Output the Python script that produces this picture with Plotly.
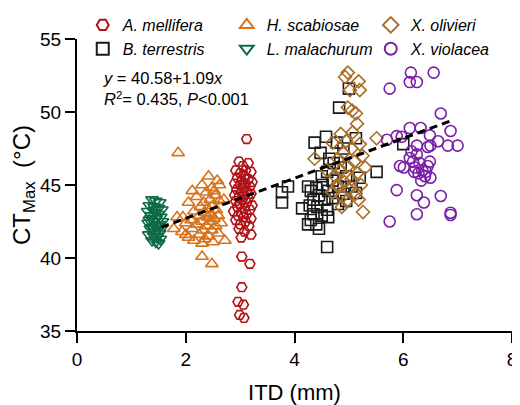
import plotly.graph_objects as go

# ---------------- data ----------------
mellifera_x = [3.12, 2.98, 3.15, 3.05, 2.92, 3.10, 3.20, 3.00, 3.08, 2.95, 3.15, 3.03, 3.22, 2.90, 3.10,
               3.00, 3.18, 3.06, 2.94, 3.12, 3.02, 3.20, 2.90, 3.08, 2.98, 3.15, 3.04, 2.92, 3.12, 3.00,
               3.22, 2.95, 3.08, 3.18, 2.88, 3.02, 3.12, 2.96, 3.06, 3.20, 2.92, 3.10, 3.00, 3.16, 2.98,
               3.08, 3.20, 3.02, 3.03, 3.18, 3.03, 2.96, 3.06, 2.99, 3.07]
mellifera_y = [48.15, 46.6, 46.5, 46.3, 46.0, 46.0, 45.9, 45.8, 45.6, 45.5, 45.4, 45.3, 45.2, 45.1, 45.1,
               45.0, 44.9, 44.8, 44.7, 44.6, 44.5, 44.4, 44.3, 44.3, 44.2, 44.1, 44.0, 43.9, 43.8, 43.7,
               43.6, 43.5, 43.4, 43.3, 43.2, 43.1, 43.0, 42.9, 42.8, 42.7, 42.6, 42.5, 42.3, 42.2, 42.0,
               41.8, 41.6, 41.4, 40.1, 39.6, 38.0, 37.0, 36.8, 36.1, 35.9]

scabiosae_x = [1.86, 2.42, 2.58, 2.30, 2.48, 2.12, 2.38, 2.55, 2.20, 2.45, 2.62, 2.05, 2.33, 2.50, 2.27,
               2.40, 2.56, 2.15, 2.35, 2.46, 2.60, 2.25, 1.95, 2.40, 2.52, 1.84, 2.10, 2.30, 2.44, 2.65,
               2.00, 2.20, 2.38, 2.55, 1.78, 2.12, 2.32, 2.48, 1.93, 2.60, 2.25, 2.42, 2.05, 2.35, 2.72,
               2.15, 2.50, 2.30, 2.00, 2.30, 2.48, 2.70, 2.62, 2.52]
scabiosae_y = [47.2, 45.6, 45.3, 45.0, 44.8, 44.6, 44.5, 44.3, 44.2, 44.0, 43.9, 43.8, 43.8, 43.6, 43.5,
               43.4, 43.3, 43.2, 43.1, 43.0, 42.9, 42.9, 42.8, 42.8, 42.7, 42.8, 42.6, 42.5, 42.5, 42.4,
               42.4, 42.3, 42.2, 42.2, 42.0, 42.0, 41.9, 41.9, 41.8, 41.7, 41.6, 41.5, 41.4, 41.3, 41.2,
               41.2, 41.1, 41.0, 41.6, 40.1, 39.6, 44.0, 45.0, 44.6]

olivieri_x = [4.98, 4.93, 5.18, 5.20, 5.02, 4.98, 5.13, 5.06, 5.15, 5.07, 5.51, 4.85, 4.95, 5.20, 4.70,
              5.05, 4.90, 5.25, 4.37, 4.80, 5.10, 4.98, 5.30, 4.85, 5.15, 4.75, 5.05, 4.92, 5.22, 4.80,
              5.00, 4.70, 5.12, 4.88, 4.96, 4.87, 5.26, 5.18, 4.78, 4.60]
olivieri_y = [52.7, 52.4, 52.1, 51.5, 51.5, 50.3, 49.9, 50.1, 49.2, 48.6, 48.2, 48.5, 48.0, 47.8, 47.9,
              47.5, 47.2, 47.0, 46.8, 46.8, 46.6, 46.3, 46.2, 46.0, 45.8, 45.6, 45.4, 45.2, 45.0, 44.9,
              44.7, 44.5, 44.4, 44.2, 43.9, 43.5, 43.15, 44.0, 45.0, 46.0]

terrestris_x = [5.00, 4.82, 5.13, 4.37, 4.58, 4.78, 4.90, 4.64, 4.48, 4.72, 4.85, 4.60, 5.51, 5.20, 4.95,
                4.70, 4.52, 4.80, 5.05, 5.13, 4.40, 4.62, 4.90, 3.77, 3.88, 3.77, 4.14, 4.30, 4.45, 4.55,
                4.35, 4.70, 4.28, 4.42, 4.60, 4.80, 4.35, 4.50, 4.62, 4.25, 4.40, 4.30, 4.45, 4.60, 6.00,
                4.95, 4.25, 4.50]
terrestris_y = [51.6, 50.3, 48.2, 47.9, 48.3, 47.9, 47.5, 46.8, 47.2, 46.5, 46.2, 45.9, 45.9, 45.5, 45.6,
                45.3, 45.0, 44.9, 44.9, 44.45, 44.8, 44.6, 44.4, 44.5, 44.9, 43.8, 43.4, 44.6, 44.3, 44.0,
                44.0, 44.1, 43.6, 43.5, 43.3, 43.7, 43.0, 42.9, 42.8, 42.3, 42.3, 42.6, 42.0, 40.75, 47.8,
                43.9, 44.9, 45.6]

malachurum_x = [1.38, 1.45, 1.52, 1.33, 1.42, 1.50, 1.56, 1.30, 1.44, 1.49, 1.37, 1.54, 1.46, 1.33, 1.41,
                1.57, 1.31, 1.51, 1.45, 1.39, 1.55, 1.35, 1.48, 1.43, 1.52, 1.32, 1.41, 1.47, 1.53, 1.38,
                1.45, 1.50, 1.36, 1.43, 1.47]
malachurum_y = [44.0, 43.9, 43.8, 43.6, 43.5, 43.4, 43.3, 43.2, 43.1, 43.0, 42.9, 42.8, 42.7, 42.6, 42.5,
                42.5, 42.4, 42.3, 42.2, 42.1, 42.0, 42.0, 41.9, 41.8, 41.7, 41.6, 41.5, 41.4, 41.3, 41.2,
                41.1, 41.0, 42.7, 43.3, 42.2]

violacea_x = [6.14, 6.56, 6.12, 6.25, 5.75, 6.69, 6.87, 6.12, 6.32, 6.49, 5.88, 5.70, 5.97, 6.64, 6.25,
              6.45, 6.50, 6.82, 7.00, 6.12, 6.25, 6.18, 5.94, 6.01, 6.49, 6.22, 6.35, 6.45, 6.28, 6.40,
              6.50, 6.33, 6.20, 6.42, 6.30, 6.15, 5.88, 6.25, 6.38, 6.69, 6.25, 6.87, 6.87, 5.75]
violacea_y = [52.7, 52.7, 52.05, 52.05, 51.6, 49.9, 48.7, 48.9, 48.9, 48.4, 48.35, 48.1, 48.3, 48.0, 47.7,
              47.6, 47.7, 47.7, 47.7, 46.85, 47.1, 46.6, 46.3, 46.2, 46.6, 46.2, 46.0, 46.3, 45.8, 45.6,
              45.5, 45.3, 45.9, 45.9, 46.5, 47.3, 44.65, 44.3, 43.8, 44.25, 43.0, 43.1, 42.95, 42.5]

# drawn trend line
trend_x = [1.55, 6.90]
trend_intercept = 39.98
trend_slope = 1.37
trend_y = [trend_intercept + trend_slope * v for v in trend_x]

x_ticks = [0, 2, 4, 6, 8]
y_ticks = [35, 40, 45, 50, 55]

FONT = "Arial, Liberation Sans, sans-serif"

series = [
    # name, x, y, symbol, colour, legendrank, size
    ("A. mellifera", mellifera_x, mellifera_y, "hexagon2-open", "#B01217", 1, 10),
    ("H. scabiosae", scabiosae_x, scabiosae_y, "triangle-up-open", "#D6731C", 2, 11),
    ("X. olivieri", olivieri_x, olivieri_y, "diamond-open", "#A86E28", 3, 10),
    ("B. terrestris", terrestris_x, terrestris_y, "square-open", "#1A1A1A", 4, 11),
    ("L. malachurum", malachurum_x, malachurum_y, "triangle-down-open", "#0E6B43", 5, 11),
    ("X. violacea", violacea_x, violacea_y, "circle-open", "#7A1FA6", 6, 11),
]

fig = go.Figure()
draw_order = [3, 2, 0, 4, 1, 5]
for i in draw_order:
    name, xs, ys, sym, col, rank, sz = series[i]
    fig.add_trace(go.Scatter(
        x=xs, y=ys, mode="markers", name=f"<i>{name}</i>",
        legendrank=rank,
        marker=dict(symbol=sym, size=sz, color=col, line=dict(width=1.6, color=col)),
    ))

fig.add_trace(go.Scatter(
    x=trend_x, y=trend_y, mode="lines", showlegend=False,
    line=dict(color="black", width=3, dash="8px,5px"),
))

fig.add_annotation(
    xref="paper", yref="paper", x=0.055, y=0.905, xanchor="left", yanchor="top",
    align="left", showarrow=False,
    text="<i>y</i> = 40.58+1.09<i>x</i><br><i>R</i><sup>2</sup>= 0.435, <i>P</i>&lt;0.001",
    font=dict(family=FONT, size=16.5, color="black"),
)

# page body has an 8px margin, so the figure is sized/positioned to compensate
fig.update_layout(
    width=512, height=397,
    margin=dict(l=69, r=8, t=31, b=74, autoexpand=False),
    paper_bgcolor="white", plot_bgcolor="white",
    font=dict(family=FONT, color="black"),
    showlegend=True,
    legend=dict(
        orientation="h", xref="container", yref="container",
        x=0.146, y=1.0, xanchor="left", yanchor="top",
        font=dict(family=FONT, size=16, color="black"),
        entrywidth=99, traceorder="normal",
        bgcolor="rgba(0,0,0,0)", itemsizing="constant",
    ),
    xaxis=dict(
        range=[0, 8], tickvals=x_ticks, showgrid=False, zeroline=False,
        showline=True, linecolor="black", linewidth=2, automargin=False,
        ticks="outside", ticklen=10, tickwidth=2, tickcolor="black",
        tickfont=dict(size=19, family=FONT),
        title=dict(text="ITD (mm)", font=dict(size=22, family=FONT), standoff=16),
    ),
    yaxis=dict(
        range=[35, 55], tickvals=y_ticks, showgrid=False, zeroline=False,
        showline=True, linecolor="black", linewidth=2, automargin=False,
        ticks="outside", ticklen=10, tickwidth=2, tickcolor="black",
        tickfont=dict(size=19, family=FONT),
        title=dict(text="CT<sub>Max</sub>  (°C)", font=dict(size=24, family=FONT), standoff=4),
    ),
)

fig.write_html("out.html")
